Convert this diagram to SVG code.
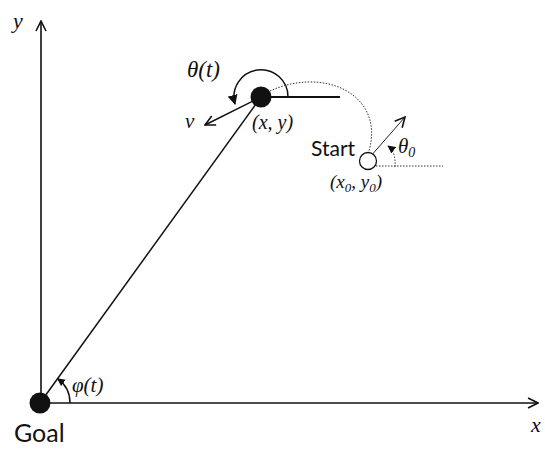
<svg xmlns="http://www.w3.org/2000/svg" width="545" height="449" viewBox="0 0 545 449">
<style>
.ax{stroke:#111;stroke-width:1.6;fill:none}
.ln{stroke:#111;stroke-width:1.5;fill:none}
.dot{stroke:#333;stroke-width:1;fill:none;stroke-dasharray:1.5 1.5}
.m{font-family:"Liberation Serif",serif;font-style:italic;fill:#111}
.s{font-family:Lato,"Open Sans",sans-serif;fill:#111}
</style>
<defs>
<marker id="open" viewBox="0 0 12 12" refX="11" refY="6" markerWidth="12" markerHeight="12" markerUnits="userSpaceOnUse" orient="auto">
<path d="M1 1 L11 6 L1 11" fill="none" stroke="#111" stroke-width="1.6"/>
</marker>
<marker id="fill" viewBox="0 0 10 10" refX="9" refY="5" markerWidth="10" markerHeight="10" markerUnits="userSpaceOnUse" orient="auto">
<path d="M0 0 L10 5 L0 10 Z" fill="#111"/>
</marker>
<marker id="fills" viewBox="0 0 10 10" refX="9" refY="5" markerWidth="8" markerHeight="8" markerUnits="userSpaceOnUse" orient="auto">
<path d="M0 0 L10 5 L0 10 Z" fill="#111"/>
</marker>
</defs>
<g id="connectors">
<line class="ax" x1="41" y1="403" x2="41" y2="21" marker-end="url(#open)"/>
<line class="ax" x1="41" y1="403" x2="538" y2="403" marker-end="url(#open)"/>
<line class="ln" x1="40" y1="403" x2="261" y2="97"/>
<line x1="261" y1="97" x2="340" y2="97" stroke="#111" stroke-width="2.2"/>
<line class="ln" x1="261" y1="97" x2="205" y2="125" marker-end="url(#open)"/>
<path class="ln" d="M288 97 A27 27 0 1 0 235 104" marker-end="url(#fill)"/>
<path class="dot" d="M270 91 C325 66 385 95 369 151"/>
<line class="dot" x1="376" y1="166" x2="443" y2="166"/>
<line x1="363" y1="165" x2="405" y2="117" stroke="#222" stroke-width="1" marker-end="url(#open)"/>
<path class="dot" d="M395 167 Q396 152 388 146" marker-end="url(#fills)"/>
<path class="ln" d="M70 403 A30 30 0 0 0 57.6 378.7" marker-end="url(#fills)"/>
</g>
<g id="goal">
<circle cx="40" cy="403" r="10.5" fill="#111"/>
<text class="s" x="14" y="442" font-size="25">Goal</text>
</g>
<g id="robot">
<circle cx="261" cy="97" r="10.5" fill="#111"/>
<text class="m" x="252" y="129" font-size="20">(x, y)</text>
</g>
<g id="start">
<circle cx="368" cy="161" r="8.5" fill="#fff" stroke="#111" stroke-width="1.3"/>
<text class="s" x="311" y="156" font-size="21">Start</text>
<text class="m" x="330" y="188" font-size="19">(x<tspan font-size="13" dy="4">0</tspan><tspan dy="-4">, y</tspan><tspan font-size="13" dy="4">0</tspan><tspan dy="-4">)</tspan></text>
</g>
<g id="labels">
<text class="m" x="187" y="77" font-size="23">θ(t)</text>
<text class="m" x="185" y="128" font-size="21">v</text>
<text class="m" x="398" y="153" font-size="21">θ<tspan font-size="14" dy="4">0</tspan></text>
<text class="m" x="72" y="392" font-size="21">φ(t)</text>
<text class="m" x="13" y="28" font-size="22">y</text>
<text class="m" x="531" y="432" font-size="22">x</text>
</g>
</svg>
